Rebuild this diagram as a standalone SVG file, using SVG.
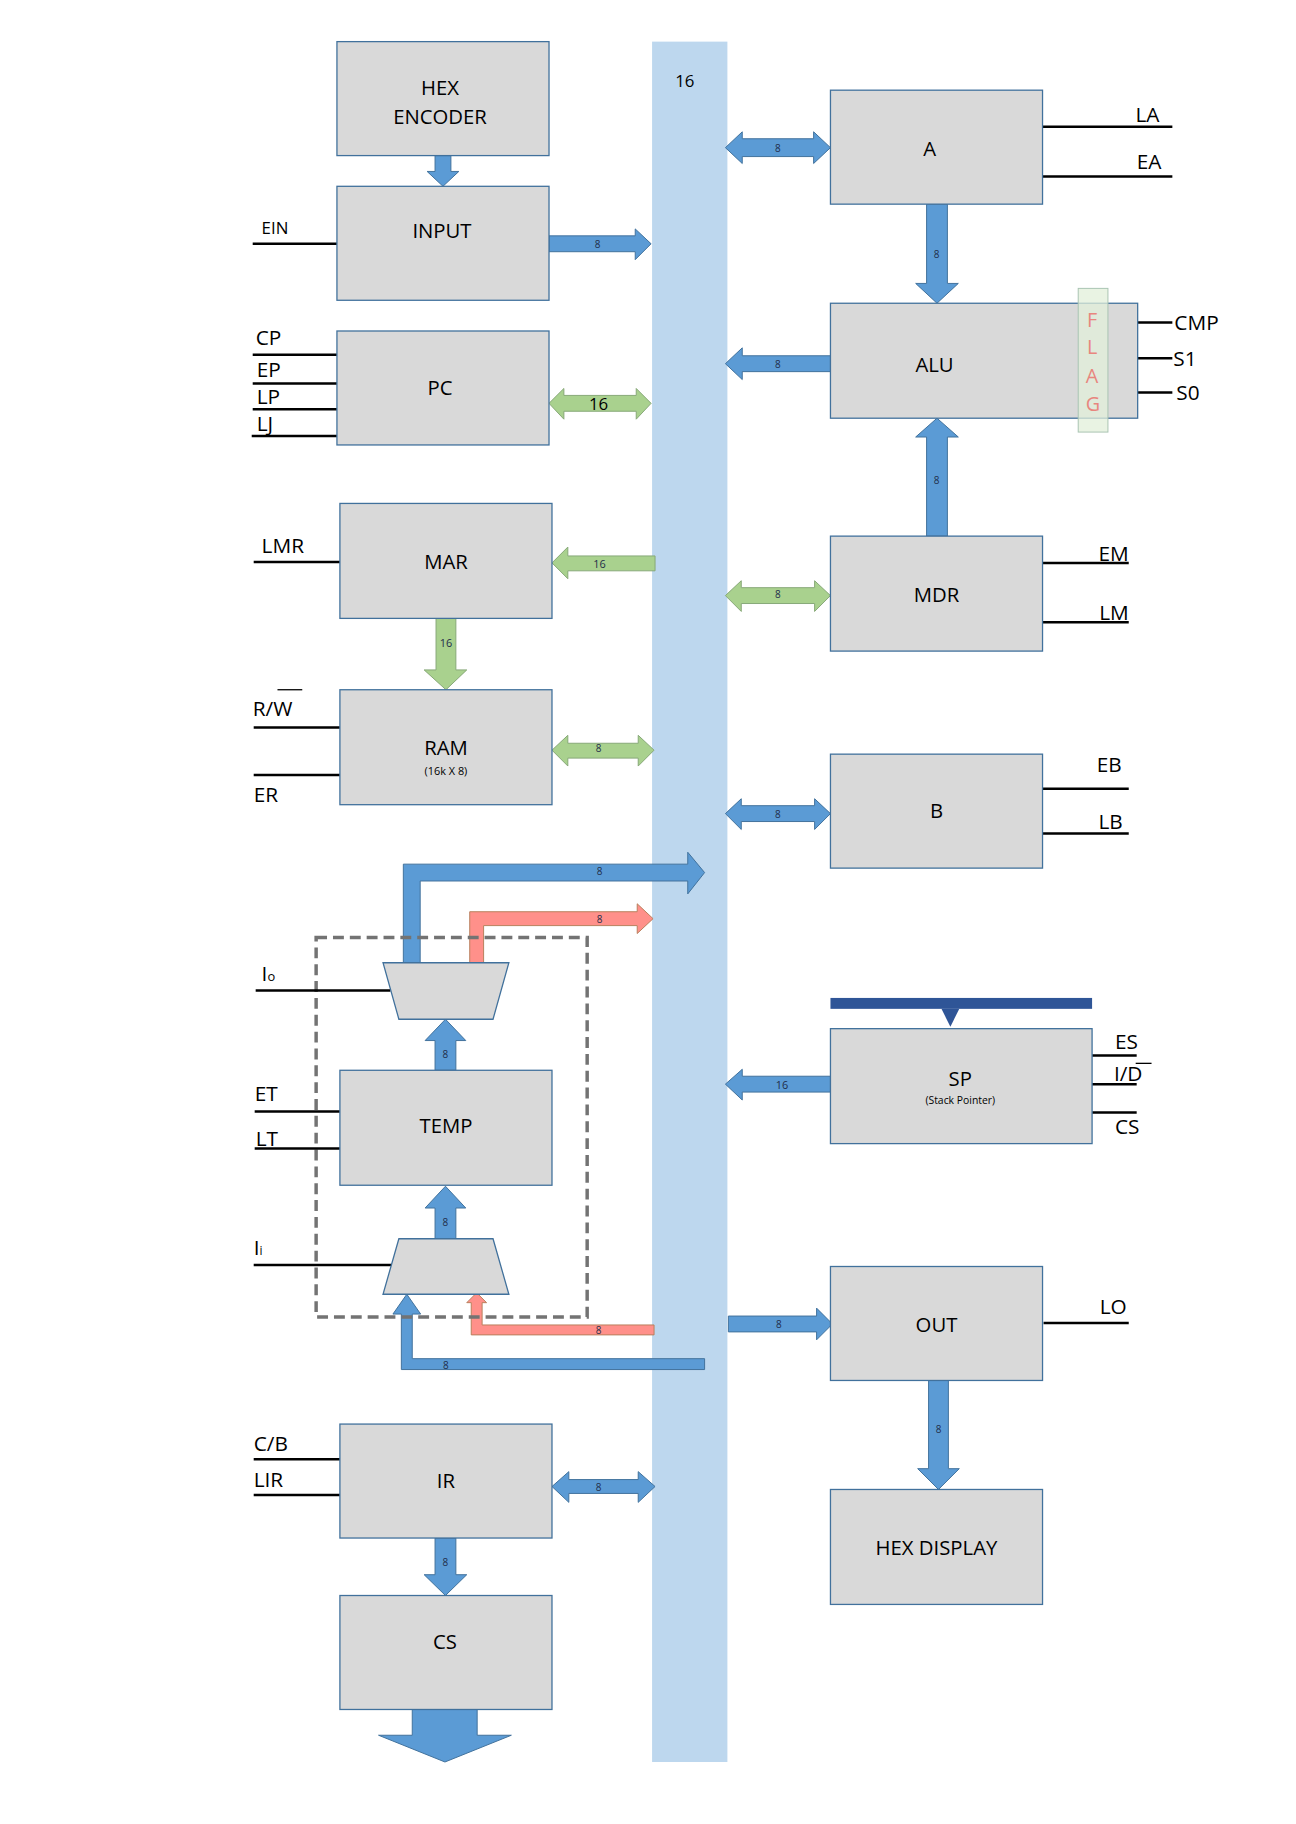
<svg xmlns="http://www.w3.org/2000/svg" width="1296" height="1824" viewBox="0 0 1296 1824">
<style>
.box{fill:#D9D9D9;stroke:#41719C;stroke-width:1.3}
.bl{fill:#5B9BD5;stroke:#41719C;stroke-width:1}
.gr{fill:#A9D18E;stroke:#87A877;stroke-width:1}
.rd{fill:#FF908A;stroke:#B8805C;stroke-width:1}
.sig{stroke:#000;stroke-width:2.5;fill:none}
text{font-family:"Open Sans","Liberation Sans",sans-serif;fill:#000}
.t{font-size:20.5px;text-anchor:middle;dominant-baseline:central}
.s{font-size:21px}
.n{font-size:10px;text-anchor:middle;dominant-baseline:central;fill:#1F2D4A}
.sub{font-size:11px;text-anchor:middle;dominant-baseline:central}
</style>
<rect width="1296" height="1824" fill="#fff"/>
<g transform="scale(0.991)">
<rect id="bus" x="658" y="42" width="76" height="1736" fill="#BDD7EE"/>
<text x="691" y="81" style="font-size:17px" text-anchor="middle" dominant-baseline="central">16</text>

<g id="connectors">
<polygon class="bl" points="439,157 455,157 455,173 463,173 447,188 431,173 439,173"/>
<polygon class="bl" points="554,238 641,238 641,231 657,246 641,262 641,254 554,254"/><text class="n" x="603" y="246">8</text>
<polygon class="gr" points="554,407 569,392 569,399 642,399 642,392 657,407 642,423 642,415 569,415 569,423"/><text x="604" y="407" style="font-size:17px" text-anchor="middle" dominant-baseline="central">16</text>
<polygon class="bl" points="732,149 749,133 749,140 821,140 821,133 838,149 821,165 821,158 749,158 749,165"/><text class="n" x="785" y="149">8</text>
<polygon class="bl" points="935,206 956,206 956,286 967,286 945.5,306 924,286 935,286"/><text class="n" x="945" y="256">8</text>
<polygon class="bl" points="838,359 749,359 749,351 732,367 749,383 749,375 838,375"/><text class="n" x="785" y="367">8</text>
<polygon class="bl" points="935,541 935,441 924,441 945.5,422 967,441 956,441 956,541"/><text class="n" x="945" y="484">8</text>
<polygon class="gr" points="661,561 573,561 573,552 557,568 573,584 573,576 661,576"/><text class="n" x="605" y="569" style="font-size:11px">16</text>
<polygon class="gr" points="440,624 460,624 460,676 471,676 450,696 428,676 440,676"/><text class="n" x="450" y="648" style="font-size:11px">16</text>
<polygon class="gr" points="557,757 573,742 573,750 644,750 644,742 660,757 644,773 644,765 573,765 573,773"/><text class="n" x="604" y="755">8</text>
<polygon class="gr" points="732,601 748,586 748,593 822,593 822,586 838,601 822,617 822,609 748,609 748,617"/><text class="n" x="785" y="599">8</text>
<polygon class="bl" points="732,821 748,806 748,813 822,813 822,806 838,821 822,837 822,829 748,829 748,837"/><text class="n" x="785" y="821">8</text>
<polygon class="bl" points="407,972 407,872 694,872 694,860 711,880.5 694,902 694,889 424,889 424,972"/><text class="n" x="605" y="879">8</text>
<polygon class="rd" points="474,972 474,920 643,920 643,912 659,927 643,942 643,934 488,934 488,972"/><text class="n" x="605" y="927">8</text>
<polygon class="bl" points="439,1080 439,1050 429,1050 449.5,1028.5 470,1050 460,1050 460,1080"/><text class="n" x="449.5" y="1064">8</text>
<polygon class="bl" points="439,1250 439,1219 429,1219 449.5,1197 470,1219 460,1219 460,1250"/><text class="n" x="449.5" y="1233">8</text>
<polygon class="bl" points="405,1382 405,1326 396.5,1326 410.5,1306 424.5,1326 416,1326 416,1371 711,1371 711,1382"/><text class="n" x="450" y="1377">8</text>
<polygon class="rd" points="475.5,1347 475.5,1314.5 471,1314.5 481,1304.5 491,1314.5 486.5,1314.5 486.5,1337 660,1337 660,1347"/><text class="n" x="604" y="1342">8</text>
<polygon class="bl" points="838,1086 749,1086 749,1079 732,1094 749,1110 749,1102 838,1102"/><text class="n" x="789" y="1094" style="font-size:11px">16</text>
<polygon class="bl" points="735,1328 824,1328 824,1320 840,1336 824,1352 824,1344 735,1344"/><text class="n" x="786" y="1336">8</text>
<polygon class="bl" points="937,1393 957,1393 957,1482 968,1482 947,1503 926,1482 937,1482"/><text class="n" x="947" y="1442">8</text>
<polygon class="bl" points="557,1500 574,1485 574,1493 644,1493 644,1485 661,1500 644,1516 644,1507 574,1507 574,1516"/><text class="n" x="604" y="1500">8</text>
<polygon class="bl" points="439,1552 460,1552 460,1589 471,1589 449.5,1610 428,1589 439,1589"/><text class="n" x="449.5" y="1576">8</text>
<polygon class="bl" points="416,1725 481.5,1725 481.5,1751 516,1751 449,1778 382,1751 416,1751"/>
<rect x="319" y="946" width="273.5" height="383" fill="none" stroke="#737373" stroke-width="3.5" stroke-dasharray="11 6"/>
</g>

<g id="signals">
<line class="sig" x1="255" y1="246" x2="340" y2="246"/><text class="s" x="264" y="236" style="font-size:17px">EIN</text>
<line class="sig" x1="255" y1="358" x2="340" y2="358"/><text class="s" x="258" y="348">CP</text>
<line class="sig" x1="255" y1="387" x2="340" y2="387"/><text class="s" x="259" y="380">EP</text>
<line class="sig" x1="255" y1="413" x2="340" y2="413"/><text class="s" x="259" y="408">LP</text>
<line class="sig" x1="254" y1="440" x2="340" y2="440"/><text class="s" x="259" y="435">LJ</text>
<line class="sig" x1="256" y1="567" x2="343" y2="567"/><text class="s" x="264" y="558">LMR</text>
<line class="sig" x1="256" y1="734" x2="343" y2="734"/><text class="s" x="255" y="723">R/W</text><line x1="280" y1="696" x2="305" y2="696" stroke="#000" stroke-width="1.3"/>
<line class="sig" x1="256" y1="782" x2="343" y2="782"/><text class="s" x="256" y="809">ER</text>
<line class="sig" x1="258" y1="999.5" x2="394" y2="999.5"/><text class="s" x="264" y="990">I<tspan style="font-size:13px">o</tspan></text>
<line class="sig" x1="257" y1="1121.5" x2="343" y2="1121.5"/><text class="s" x="257" y="1111">ET</text>
<line class="sig" x1="257" y1="1159" x2="343" y2="1159"/><text class="s" x="258" y="1156">LT</text>
<line class="sig" x1="256" y1="1276.5" x2="395" y2="1276.5"/><text class="s" x="256" y="1266">I<tspan style="font-size:12px">i</tspan></text>
<line class="sig" x1="256" y1="1472.5" x2="343" y2="1472.5"/><text class="s" x="256" y="1464">C/B</text>
<line class="sig" x1="256" y1="1508.5" x2="343" y2="1508.5"/><text class="s" x="256" y="1500">LIR</text>
<line class="sig" x1="1052" y1="128" x2="1183" y2="128"/><text class="s" x="1170" y="123" text-anchor="end">LA</text>
<line class="sig" x1="1052" y1="178" x2="1183" y2="178"/><text class="s" x="1172" y="171" text-anchor="end">EA</text>
<line class="sig" x1="1147" y1="325.5" x2="1183" y2="325.5"/><text class="s" x="1185" y="333">CMP</text>
<line class="sig" x1="1147" y1="361.5" x2="1183" y2="361.5"/><text class="s" x="1184" y="369">S1</text>
<line class="sig" x1="1147" y1="396" x2="1183" y2="396"/><text class="s" x="1187" y="404">S0</text>
<line class="sig" x1="1052" y1="568" x2="1139" y2="568"/><text class="s" x="1139" y="566" text-anchor="end">EM</text>
<line class="sig" x1="1052" y1="628" x2="1139" y2="628"/><text class="s" x="1139" y="626" text-anchor="end">LM</text>
<line class="sig" x1="1052" y1="796" x2="1139" y2="796"/><text class="s" x="1132" y="779" text-anchor="end">EB</text>
<line class="sig" x1="1052" y1="841" x2="1139" y2="841"/><text class="s" x="1133" y="837" text-anchor="end">LB</text>
<line class="sig" x1="1102" y1="1065" x2="1147" y2="1065"/><text class="s" x="1125" y="1059">ES</text>
<line class="sig" x1="1102" y1="1094" x2="1147" y2="1094"/><text class="s" x="1124" y="1091">I/D</text><line x1="1146" y1="1073" x2="1162" y2="1073" stroke="#000" stroke-width="1.3"/>
<line class="sig" x1="1102" y1="1122.5" x2="1147" y2="1122.5"/><text class="s" x="1125" y="1144">CS</text>
<line class="sig" x1="1053" y1="1335" x2="1139" y2="1335"/><text class="s" x="1137" y="1326" text-anchor="end">LO</text>
</g>

<g id="hexenc"><rect class="box" x="340" y="42" width="214" height="115"/><text class="t" x="444" y="88">HEX</text><text class="t" x="444" y="117">ENCODER</text></g>
<g id="input"><rect class="box" x="340" y="188" width="214" height="115"/><text class="t" x="446" y="232">INPUT</text></g>
<g id="pc"><rect class="box" x="340" y="334" width="214" height="115"/><text class="t" x="444" y="391">PC</text></g>
<g id="mar"><rect class="box" x="343" y="508" width="214" height="116"/><text class="t" x="450" y="566">MAR</text></g>
<g id="ram"><rect class="box" x="343" y="696" width="214" height="116"/><text class="t" x="450" y="754">RAM</text><text class="sub" x="450" y="777">(16k X 8)</text></g>
<g id="mux_out"><polygon class="box" points="386.5,971.5 513.5,971.5 497.5,1028.5 402.5,1028.5"/></g>
<g id="temp"><rect class="box" x="343" y="1080" width="214" height="116"/><text class="t" x="450" y="1135">TEMP</text></g>
<g id="mux_in"><polygon class="box" points="402.5,1250 497.5,1250 513.5,1306 386.5,1306"/></g>
<g id="ir"><rect class="box" x="343" y="1437" width="214" height="115"/><text class="t" x="450" y="1493">IR</text></g>
<g id="cs"><rect class="box" x="343" y="1610" width="214" height="115"/><text class="t" x="449" y="1656">CS</text></g>
<g id="a"><rect class="box" x="838" y="91" width="214" height="115"/><text class="t" x="938" y="149">A</text></g>
<g id="alu"><rect class="box" x="838" y="306" width="310" height="116"/><text class="t" x="943" y="367">ALU</text>
<rect x="1088" y="291" width="30" height="145" fill="#E2EFDA" fill-opacity="0.75" stroke="#A9C4B3" stroke-width="1"/>
<g style="font-size:20px" text-anchor="middle"><text x="1102" y="322" dominant-baseline="central" style="fill:#E8867E">F</text><text x="1102" y="350" dominant-baseline="central" style="fill:#E8867E">L</text><text x="1102" y="379" dominant-baseline="central" style="fill:#E8867E">A</text><text x="1103" y="407" dominant-baseline="central" style="fill:#E8867E">G</text></g></g>
<g id="mdr"><rect class="box" x="838" y="541" width="214" height="116"/><text class="t" x="945" y="599">MDR</text></g>
<g id="b"><rect class="box" x="838" y="761" width="214" height="115"/><text class="t" x="945" y="817">B</text></g>
<g id="sp"><rect x="838" y="1007" width="264" height="11" fill="#2F5597"/><polygon points="950,1018 968,1018 959,1036" fill="#2F5597"/>
<rect class="box" x="838" y="1038" width="264" height="116"/><text class="t" x="969" y="1088">SP</text><text class="sub" x="969" y="1110" style="font-size:10.5px">(Stack Pointer)</text></g>
<g id="out"><rect class="box" x="838" y="1278" width="214" height="115"/><text class="t" x="945" y="1336">OUT</text></g>
<g id="hexdisp"><rect class="box" x="838" y="1503" width="214" height="116"/><text class="t" x="945" y="1561">HEX DISPLAY</text></g>
</g>
</svg>
